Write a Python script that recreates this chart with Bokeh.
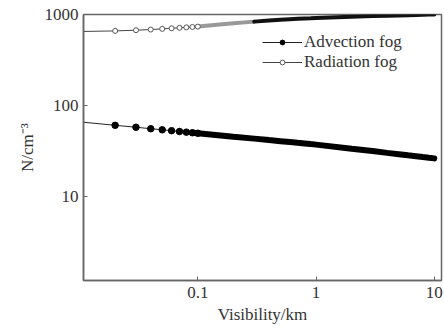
from bokeh.plotting import figure
from bokeh.models import FixedTicker, CustomJSTickFormatter, Legend, LegendItem, Range1d
from bokeh.embed import file_html
from bokeh.resources import INLINE

# Data
visibility = [0.01, 0.02, 0.03, 0.04, 0.05, 0.06, 0.07, 0.08, 0.09, 0.1,
              0.2, 0.3, 0.4, 0.5, 0.6, 0.7, 0.8, 0.9, 1,
              2, 3, 4, 5, 6, 7, 8, 9, 10]
advection_N = [66, 60.5, 57.6, 55.5, 54, 52.8, 51.7, 50.9, 50.1, 49.5,
               45.4, 43.2, 41.6, 40.5, 39.6, 38.8, 38.2, 37.6, 37.1,
               33.4, 31.5, 30.1, 29.1, 28.3, 27.7, 27.1, 26.6, 26.2]
radiation_N = [650, 660, 672, 683, 695, 705, 714, 722, 729, 736,
               800, 835, 858, 875, 888, 898, 906, 912, 918,
               945, 960, 970, 978, 984, 989, 993, 997, 1000]
x_ticks = [0.1, 1, 10]
y_ticks = [10, 100, 1000]
series_names = ["Advection fog", "Radiation fog"]

FONT = "Liberation Serif"
TXT = "#333333"
AX = "#666666"

p = figure(width=444, height=329, x_axis_type="log", y_axis_type="log",
           x_range=Range1d(0.0108, 11.5), y_range=Range1d(1.19, 1000),
           output_backend="svg", toolbar_location=None,
           min_border_left=83, min_border_right=3, min_border_top=14, min_border_bottom=49)
p.grid.visible = False
p.outline_line_color = AX
p.outline_line_width = 1.5
p.background_fill_color = "white"
p.border_fill_color = "white"

# dense portion index (visibility >= 0.1)
i_dense = visibility.index(0.1)
i_dark = visibility.index(0.3)

# Advection fog
adv_line = p.line(visibility, advection_N, line_color="#222222", line_width=1)
p.line(visibility[i_dense - 1:], advection_N[i_dense - 1:], line_color="black", line_width=6, line_cap="round")
adv_pts = p.scatter(visibility[:i_dense + 1], advection_N[:i_dense + 1], marker="circle", size=6.5,
                    fill_color="black", line_color="black")

# Radiation fog
rad_line = p.line(visibility, radiation_N, line_color="#444444", line_width=1)
p.line(visibility[i_dense:i_dark + 1], radiation_N[i_dense:i_dark + 1], line_color="#999999",
       line_width=4, line_cap="round")
p.line(visibility[i_dark:], radiation_N[i_dark:], line_color="#111111", line_width=4, line_cap="round")
rad_pts = p.scatter(visibility[:i_dense + 1], radiation_N[:i_dense + 1], marker="circle", size=5,
                    fill_color="white", line_color="#555555", line_width=1)

legend = Legend(items=[LegendItem(label=series_names[0], renderers=[adv_line, adv_pts]),
                       LegendItem(label=series_names[1], renderers=[rad_line, rad_pts])],
                location=(179, 208), padding=0, margin=0, spacing=0,
                glyph_width=40, glyph_height=12, label_height=19, label_standoff=2,
                border_line_color=None, background_fill_alpha=0,
                label_text_font=FONT, label_text_font_size="17px", label_text_color=TXT)
p.add_layout(legend, "center")

fmt = CustomJSTickFormatter(code="return tick.toString();")
for ax, ticks in ((p.xaxis[0], x_ticks), (p.yaxis[0], y_ticks)):
    ax.ticker = FixedTicker(ticks=ticks, minor_ticks=[])
    ax.formatter = fmt
    ax.axis_line_color = AX
    ax.axis_line_width = 1.5
    ax.major_tick_line_color = AX
    ax.major_tick_in = 4
    ax.major_tick_out = 0
    ax.minor_tick_line_color = None
    ax.major_label_text_font = FONT
    ax.major_label_text_font_size = "17px"
    ax.major_label_text_color = TXT
    ax.axis_label_text_font = FONT
    ax.axis_label_text_font_size = "17px"
    ax.axis_label_text_font_style = "normal"
    ax.axis_label_text_color = TXT

p.xaxis.axis_label = "Visibility/km"
p.xaxis.major_label_standoff = 6
p.xaxis.axis_label_standoff = 4
p.yaxis.axis_label = "N/cm\u207b\u00b3"
p.yaxis.major_label_standoff = 5
p.yaxis.axis_label_standoff = 5

open("out.html", "w").write(file_html(p, INLINE))
